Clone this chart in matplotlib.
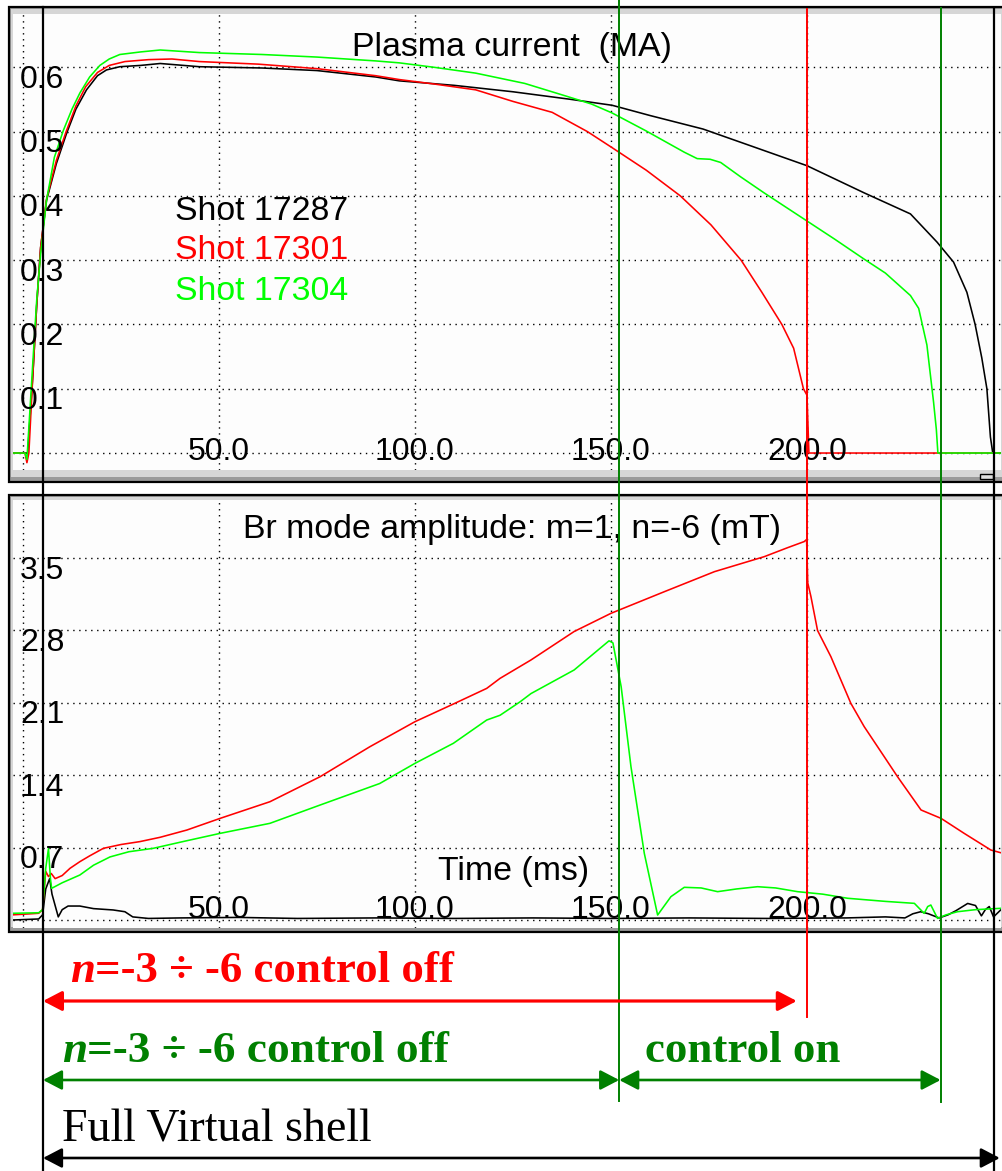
import matplotlib
matplotlib.use("Agg")
import matplotlib.pyplot as plt
import matplotlib.transforms as mtransforms
from matplotlib.patches import Rectangle, FancyArrowPatch
from matplotlib.lines import Line2D

# ---------------- data ----------------
# Plasma current (MA)
ip_t_17287 = [-2.55, 0.3, 1.2, 2.5, 3.5, 4.5, 6.0, 8.5, 11.1, 13.5, 16.2, 19.0, 21.3, 24.7, 30, 35, 45, 61, 75,
              90, 96, 110, 125, 140, 150.3, 160, 173.5, 187, 200, 214.5, 226.4, 233.2, 237.4, 240.8, 242.9, 244.6,
              245.9, 246.8, 247.4, 249.5]
ip_v_17287 = [0.0, 0.0, 0.0, 0.12, 0.23, 0.32, 0.393, 0.45, 0.497, 0.535, 0.565, 0.587, 0.596, 0.601, 0.603, 0.606,
              0.601, 0.599, 0.595, 0.585, 0.579, 0.572, 0.562, 0.55, 0.541, 0.525, 0.504, 0.475, 0.447, 0.405, 0.372,
              0.328, 0.297, 0.25, 0.2, 0.148, 0.1, 0.025, 0.0, 0.0]

ip_t_17301 = [-2.55, 0.5, 1.0, 1.5, 2.5, 3.5, 4.5, 6.0, 8.5, 11, 13.5, 16, 19, 22, 26, 32, 38, 45, 60, 75, 90, 96,
              105, 115.5, 125, 135, 144, 150.3, 159, 167.7, 175.5, 183.2, 188.5, 193.6, 196.6, 199.1, 200.0, 200.5,
              249.5]
ip_v_17301 = [0.0, 0.0, -0.015, 0.0, 0.12, 0.23, 0.32, 0.395, 0.455, 0.5, 0.54, 0.57, 0.592, 0.603, 0.609, 0.612,
              0.613, 0.609, 0.605, 0.598, 0.587, 0.581, 0.574, 0.565, 0.547, 0.53, 0.5, 0.475, 0.44, 0.4, 0.355,
              0.3, 0.25, 0.2, 0.163, 0.1, 0.09, 0.0, 0.0]

ip_t_17304 = [-2.55, 0.5, 1.0, 2.5, 3.5, 4.5, 6, 8, 10.3, 12.5, 14.5, 17, 19.6, 22, 24.7, 30, 35, 45, 61, 75, 90, 96,
              105, 115.5, 128, 138.7, 145, 150.3, 159, 168.7, 172, 175.3, 178, 183, 189, 194, 200, 207, 214.5, 220,
              226.4, 228.5, 230.6, 232.3, 233.0, 233.4, 249.5]
ip_v_17304 = [0.0, 0.0, -0.01, 0.14, 0.238, 0.31, 0.393, 0.46, 0.502, 0.535, 0.56, 0.585, 0.603, 0.613, 0.62, 0.624,
              0.627, 0.623, 0.62, 0.616, 0.61, 0.607, 0.6, 0.591, 0.575, 0.555, 0.543, 0.529, 0.501, 0.468, 0.458,
              0.457, 0.452, 0.43, 0.405, 0.385, 0.361, 0.333, 0.302, 0.28, 0.245, 0.225, 0.168, 0.079, 0.037, 0.0,
              0.0]

# Br mode amplitude m=1, n=-6 (mT)
br_t_17287 = [-2.55, 4, 5, 5.8, 6.8, 7.4, 9.0, 10, 11.5, 14.5, 18, 23, 26, 28, 32, 40, 55, 70, 90, 110, 130, 150,
              170, 190, 210, 220, 225, 227, 229, 231, 233.7, 236, 238, 241, 243, 244.5, 245.5, 246.5, 247.6, 249.5]
br_v_17287 = [0.0, 0.01, 0.05, 0.3, 0.4, 0.25, 0.03, 0.1, 0.135, 0.135, 0.11, 0.097, 0.08, 0.03, 0.015, 0.02, 0.025,
              0.015, 0.02, 0.015, 0.02, 0.015, 0.02, 0.015, 0.02, 0.03, 0.02, 0.06, 0.08, 0.06, 0.02, 0.05, 0.09,
              0.16, 0.14, 0.04, 0.1, 0.13, 0.03, 0.1]

br_t_17301 = [-2.55, 2, 4, 5, 5.8, 6.5, 7.2, 8.2, 10, 12, 14.5, 17, 20.5, 25, 29.8, 35, 41.8, 50.3, 63, 75.8, 88.5,
              100, 109.8, 118.3, 121.7, 129.6, 140.6, 150, 163.6, 176.4, 189.1, 195, 199.3, 199.9, 200.2, 201,
              202.7, 206.1, 211.2, 214.6, 219.7, 223.1, 229.1, 234.2, 240.1, 246.9, 249.5]
br_v_17301 = [0.05, 0.06, 0.065, 0.1, 0.47, 0.42, 0.45, 0.40, 0.43, 0.5, 0.564, 0.62, 0.693, 0.73, 0.758, 0.8, 0.87,
              0.983, 1.144, 1.386, 1.676, 1.918, 2.089, 2.24, 2.337, 2.515, 2.79, 2.966, 3.175, 3.369, 3.514, 3.6,
              3.66, 3.68, 3.26, 3.13, 2.8, 2.547, 2.095, 1.87, 1.58, 1.386, 1.064, 0.983, 0.838, 0.677, 0.65]

br_t_17304 = [-2.55, 4, 5, 5.8, 6.5, 7.0, 7.3, 10, 14.5, 18, 22.2, 27, 33.2, 41, 50.3, 63, 75.8, 91, 100, 109.8,
              118.3, 121.7, 126.8, 129.6, 140.6, 149.5, 150.5, 152.6, 155.1, 158.5, 161.9, 165.3, 168.7, 173, 177.2,
              182, 187.4, 192, 197.6, 204, 210.4, 220, 227.4, 229.9, 230.8, 231.6, 233.3, 235.5, 238.4, 243, 249.5]
br_v_17304 = [0.065, 0.07, 0.1, 0.5, 0.69, 0.4, 0.306, 0.36, 0.435, 0.53, 0.61, 0.66, 0.693, 0.76, 0.838, 0.935,
              1.112, 1.32, 1.515, 1.709, 1.934, 1.98, 2.11, 2.19, 2.418, 2.70, 2.68, 2.256, 1.483, 0.645, 0.048,
              0.226, 0.316, 0.31, 0.274, 0.3, 0.322, 0.31, 0.274, 0.25, 0.21, 0.18, 0.161, 0.064, 0.13, 0.145, 0.016,
              0.05, 0.08, 0.1, 0.113]

shots = ["Shot 17287", "Shot 17301", "Shot 17304"]
x_ticks = [50.0, 100.0, 150.0, 200.0]
ip_ticks = [0.1, 0.2, 0.3, 0.4, 0.5, 0.6]
br_ticks = [0.7, 1.4, 2.1, 2.8, 3.5]

# time markers (ms)
t_start = 5.1
t_green_switch = 152.1
t_red_end = 200.0
t_green_end = 234.1
t_black_end = 247.8
t_red_arrow_end = 197.4
t_black_arrow_end = 249.2

# ---------------- style / layout ----------------
W, H, DPI = 1003, 1171, 100
XLIM = (-2.55, 249.5)
IP_LIM = (-0.0264, 0.683)
BR_LIM = (-0.0774, 4.062)
SANS = ["Liberation Sans", "DejaVu Sans"]
SERIF = ["Liberation Serif", "DejaVu Serif"]
C_BLACK, C_RED, C_GREEN = "#000000", "#ff0000", "#00ff00"
C_DKGREEN = "#008000"
FS = 23      # tick labels
FS_T = 24.4  # titles / legend

fig = plt.figure(figsize=(W / DPI, H / DPI), dpi=DPI)
fig.patch.set_facecolor("white")


def fx(x):
    return x / W


def fy(y):
    return 1 - y / H


def rect_px(l, t, r, b, **kw):
    p = Rectangle((fx(l), fy(b)), (r - l) / W, (b - t) / H, transform=fig.transFigure, **kw)
    fig.add_artist(p)
    return p


def panel(l, t, r, b, al, at, ar, ab):
    rect_px(l, t, r, b, facecolor="#9a9a9a", edgecolor="black", lw=1.6, zorder=-5)
    rect_px(l + 2, t + 2, r - 2, b - 5, facecolor="#d6d6d6", edgecolor="none", zorder=-4)
    ax = fig.add_axes([fx(al), fy(ab), (ar - al) / W, (ab - at) / H])
    ax.set_facecolor("#fdfdfd")
    for s in ax.spines.values():
        s.set_visible(False)
    ax.tick_params(length=0, labelbottom=False, labelleft=False)
    return ax


ax1 = panel(9, 7, 1010, 482, 13, 14, 1001, 470)
ax2 = panel(9, 495, 1010, 932, 13, 500, 1001, 928)
rect_px(980, 474, 993, 479, facecolor="#e0e0e0", edgecolor="black", lw=1.0, zorder=1)

grid_kw = dict(color="black", lw=1.0, linestyle=(0, (1, 3.3)))
for ax, yt, lim in ((ax1, [0.0] + ip_ticks, IP_LIM), (ax2, [0.0] + br_ticks, BR_LIM)):
    ax.set_xlim(*XLIM)
    ax.set_ylim(*lim)
    ax.set_xticks([0.0] + x_ticks)
    ax.set_yticks(yt)
    ax.grid(True, **grid_kw)
    ax.set_axisbelow(True)

# curves
lw = 1.15
ax1.plot(ip_t_17287, ip_v_17287, color=C_BLACK, lw=lw)
ax1.plot(ip_t_17301, ip_v_17301, color=C_RED, lw=lw)
ax1.plot(ip_t_17304, ip_v_17304, color=C_GREEN, lw=lw)
ax2.plot(br_t_17287, br_v_17287, color=C_BLACK, lw=lw)
ax2.plot(br_t_17301, br_v_17301, color=C_RED, lw=lw)
ax2.plot(br_t_17304, br_v_17304, color=C_GREEN, lw=lw)

# tick labels (drawn inside the plot as in the original display)
for ax, ticks, xoff in ((ax1, ip_ticks, -7), (ax2, br_ticks, 2)):
    ytr = mtransforms.blended_transform_factory(fig.transFigure, ax.transData)
    ytr = mtransforms.offset_copy(ytr, fig=fig, x=0, y=-20.5, units="dots")
    for v in ticks:
        ax.text(fx(20), v, f"{v:.1f}", transform=ytr, ha="left", va="baseline",
                fontsize=FS, family=SANS, clip_on=False)
    xtr = mtransforms.offset_copy(ax.transData, fig=fig, x=0, y=xoff, units="dots")
    for t in x_ticks:
        ax.text(t, 0.0, f"{t:.1f}", transform=xtr, ha="center", va="baseline",
                fontsize=FS, family=SANS, clip_on=False)

# titles
fig.text(fx(352), fy(56), "Plasma current  (MA)", fontsize=FS_T, family=SANS, va="baseline", ha="left")
fig.text(fx(243), fy(538), "Br mode amplitude: m=1, n=-6 (mT)", fontsize=FS_T, family=SANS, va="baseline",
         ha="left")
fig.text(fx(438), fy(880), "Time (ms)", fontsize=FS_T, family=SANS, va="baseline", ha="left")

# legend
for name, col, yb in zip(shots, (C_BLACK, C_RED, C_GREEN), (220, 259, 300)):
    fig.text(fx(175), fy(yb), name, color=col, fontsize=FS_T, family=SANS, va="baseline", ha="left")

# ---------------- annotation overlay ----------------
btr = mtransforms.blended_transform_factory(ax1.transData, fig.transFigure)


def vline(t, y0, y1, color, lw_):
    fig.add_artist(Line2D([t, t], [fy(y0), fy(y1)], transform=btr, color=color, lw=lw_, zorder=10))


vline(t_start, 7, 1171, "black", 1.6)
vline(t_green_switch, 0, 1101, C_DKGREEN, 1.4)
vline(t_red_end, 9, 1017, C_RED, 1.4)
vline(t_green_end, 8, 1102, C_DKGREEN, 1.4)
vline(t_black_end, 8, 1171, "black", 1.6)


def arrow(t0, t1, y, color, lw_):
    a = FancyArrowPatch((t0, fy(y)), (t1, fy(y)), transform=btr,
                        arrowstyle="<|-|>,head_length=11.5,head_width=6",
                        mutation_scale=1, shrinkA=0, shrinkB=0, color=color, lw=lw_, zorder=11)
    fig.add_artist(a)


arrow(t_start, t_red_arrow_end, 1001, C_RED, 2.3)
arrow(t_start, t_green_switch, 1080, C_DKGREEN, 1.9)
arrow(t_green_switch, t_green_end, 1080, C_DKGREEN, 1.9)
arrow(t_start, t_black_arrow_end, 1158, "black", 1.9)

fig.canvas.draw()
renderer = fig.canvas.get_renderer()


def n_label(x, y, color, fs):
    tn = fig.text(fx(x), fy(y), "n", color=color, fontsize=fs, family=SERIF, weight="bold",
                  style="italic", va="baseline", ha="left")
    bb = tn.get_window_extent(renderer)
    fig.text(bb.x1 / W, fy(y), "=-3 \u00f7 -6 control off", color=color, fontsize=fs, family=SERIF,
             weight="bold", va="baseline", ha="left")


n_label(70, 982, C_RED, 32.3)
n_label(62, 1062, C_DKGREEN, 32.6)
fig.text(fx(645), fy(1062), "control on", color=C_DKGREEN, fontsize=32.3, family=SERIF, weight="bold",
         va="baseline", ha="left")
fig.text(fx(62), fy(1142), "Full Virtual shell", color="black", fontsize=33.0, family=SERIF,
         va="baseline", ha="left")

fig.savefig("out.png", dpi=DPI, facecolor="white")
